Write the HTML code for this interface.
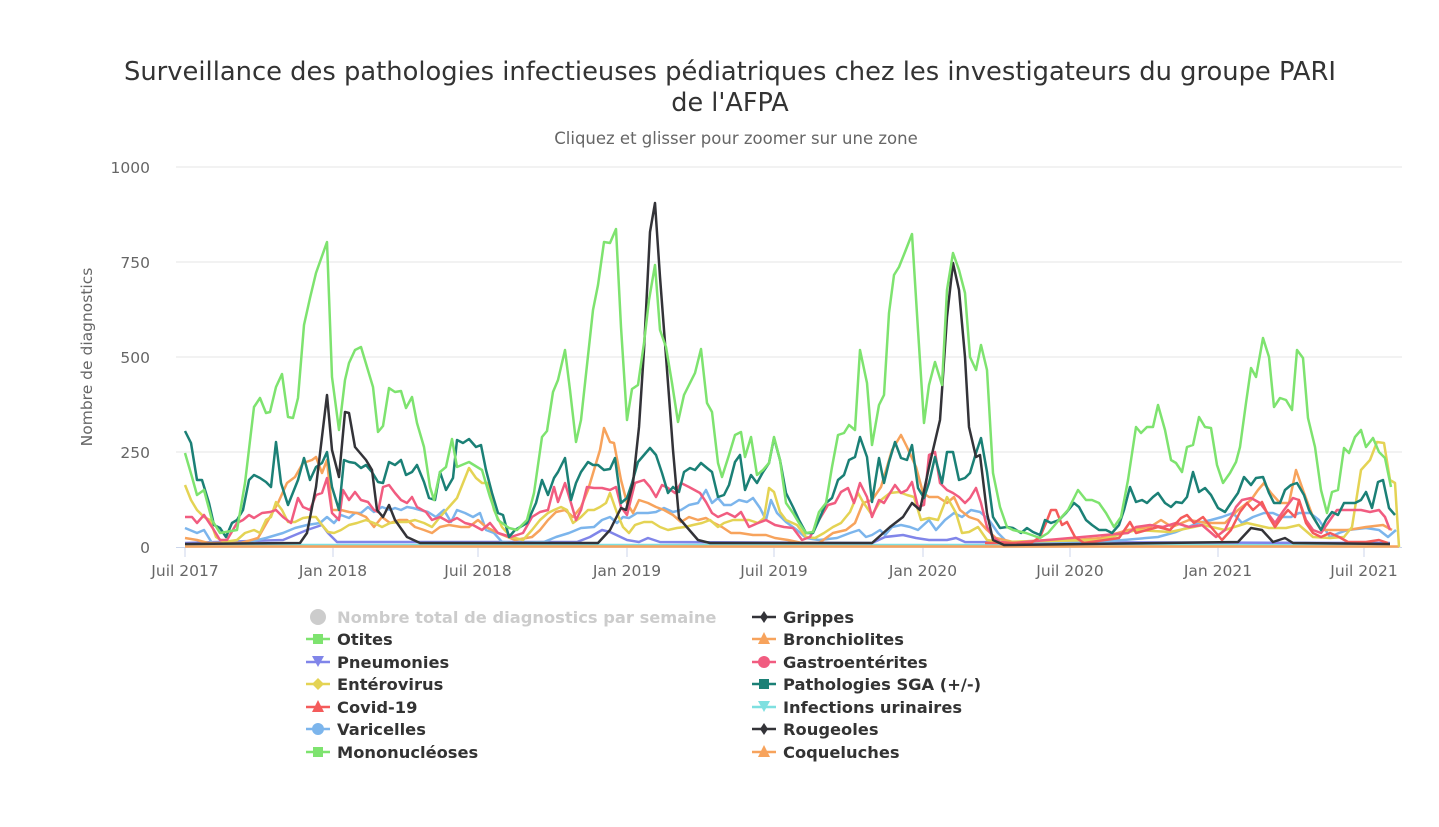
<!DOCTYPE html>
<html><head><meta charset="utf-8">
<style>
body{margin:0;background:#fff;width:1439px;height:822px;overflow:hidden;font-family:"Liberation Sans","DejaVu Sans",sans-serif;}
svg text{font-family:"DejaVu Sans","Liberation Sans",sans-serif;}
</style></head><body>
<svg width="1439" height="822" viewBox="0 0 1439 822" xmlns="http://www.w3.org/2000/svg">
<text x="730" y="80" text-anchor="middle" font-size="25.5" fill="#333" textLength="1212" lengthAdjust="spacingAndGlyphs">Surveillance des pathologies infectieuses pédiatriques chez les investigateurs du groupe PARI</text>
<text x="730" y="111" text-anchor="middle" font-size="25.5" fill="#333">de l'AFPA</text>
<text x="736" y="144" text-anchor="middle" font-size="16.5" fill="#666">Cliquez et glisser pour zoomer sur une zone</text>
<g stroke="#e6e6e6" stroke-width="1">
<line x1="176" y1="167" x2="1402" y2="167"/><line x1="176" y1="262" x2="1402" y2="262"/><line x1="176" y1="357" x2="1402" y2="357"/><line x1="176" y1="452" x2="1402" y2="452"/>
</g>
<line x1="176" y1="547.5" x2="1402" y2="547.5" stroke="#ccd6eb" stroke-width="1"/>
<g stroke="#ccd6eb" stroke-width="1">
<line x1="185" y1="547" x2="185" y2="557"/><line x1="333" y1="547" x2="333" y2="557"/><line x1="478" y1="547" x2="478" y2="557"/><line x1="627" y1="547" x2="627" y2="557"/><line x1="774" y1="547" x2="774" y2="557"/><line x1="923" y1="547" x2="923" y2="557"/><line x1="1070" y1="547" x2="1070" y2="557"/><line x1="1218" y1="547" x2="1218" y2="557"/><line x1="1364" y1="547" x2="1364" y2="557"/>
</g>
<g font-size="15.5" fill="#666" text-anchor="end">
<text x="150" y="173">1000</text><text x="150" y="268">750</text><text x="150" y="363">500</text><text x="150" y="458">250</text><text x="150" y="553">0</text>
</g>
<g font-size="15.5" fill="#666" text-anchor="middle">
<text x="185" y="576">Juil 2017</text><text x="333" y="576">Jan 2018</text><text x="478" y="576">Juil 2018</text><text x="627" y="576">Jan 2019</text><text x="774" y="576">Juil 2019</text><text x="923" y="576">Jan 2020</text><text x="1070" y="576">Juil 2020</text><text x="1218" y="576">Jan 2021</text><text x="1364" y="576">Juil 2021</text>
</g>
<text transform="translate(92,357) rotate(-90)" text-anchor="middle" font-size="15.5" fill="#666">Nombre de diagnostics</text>

<g fill="none" stroke-width="2.5" stroke-linejoin="round">
<polyline stroke="#7ee0e0" points="185,545 1390,545"/>
<polyline stroke="#f7a35c" points="185,546.5 1399,546.5"/>
<polyline stroke="#8085e9" points="185,543 283,540 295,535 307,530 316,527 322,525 328,533 337,542 577,542 590,537 602,530 610,532 627,540 639,542 648,538 660,542 872,543 885,537 903,535 916,538 929,540 947,540 956,538 965,542 1390,543"/>
<polyline stroke="#7cb5ec" points="185,528 197,533 204,530 212,543 245,543 266,538 283,533 295,528 307,525 320,523 327,517 334,523 341,515 349,518 355,513 361,513 368,507 374,512 382,507 390,510 395,508 401,510 407,507 413,508 420,510 428,512 436,517 444,510 451,522 457,510 465,513 473,517 480,513 486,530 494,533 502,542 515,543 544,542 556,537 569,533 581,528 594,527 602,520 610,517 617,523 623,517 629,518 637,513 648,513 656,512 664,508 673,512 681,510 689,505 698,503 706,490 712,503 718,498 724,505 731,505 739,500 747,502 753,498 760,508 766,520 771,500 777,513 786,522 797,530 806,538 819,540 837,538 850,533 859,530 866,537 872,535 880,530 885,535 892,527 901,525 910,527 918,530 929,520 936,530 945,520 954,513 962,517 971,510 980,512 989,520 998,533 1007,542 1100,542 1158,537 1176,532 1198,523 1211,520 1222,517 1233,513 1242,523 1253,517 1264,513 1273,513 1282,517 1291,517 1299,513 1310,513 1319,520 1330,537 1339,533 1348,530 1366,528 1379,530 1388,537 1396,530"/>
<polyline stroke="#f7a35c" points="185,538 197,540 208,543 241,543 258,538 270,517 278,503 287,483 295,477 303,463 312,460 316,457 322,473 327,460 332,510 341,510 349,512 357,513 366,517 374,527 382,517 390,523 399,520 407,520 415,527 424,530 432,533 440,527 449,525 461,527 469,527 478,520 486,527 498,533 515,540 532,537 540,530 548,520 556,512 565,510 573,517 581,507 588,490 594,470 600,450 604,428 610,442 614,443 621,480 627,503 633,513 639,500 648,503 656,507 664,510 673,515 681,522 689,517 698,520 706,518 714,523 722,527 731,533 740,533 753,535 766,535 775,538 788,540 802,543 819,543 833,533 846,530 855,523 863,503 872,500 881,487 892,450 901,435 907,447 916,467 923,493 929,497 938,497 947,503 954,497 960,510 969,517 978,520 987,530 996,538 1013,542 1048,540 1075,540 1101,538 1128,530 1150,527 1161,520 1172,527 1189,520 1207,523 1225,523 1238,510 1251,500 1258,490 1264,483 1271,493 1280,503 1289,503 1296,470 1304,493 1313,517 1321,530 1335,530 1348,530 1366,527 1383,525 1392,530"/>
<polyline stroke="#e4d354" points="185,485 191,500 197,510 204,517 210,520 216,537 224,542 237,540 245,533 254,530 260,533 266,520 271,517 276,502 282,510 288,522 295,522 303,518 310,517 316,517 322,525 328,532 334,533 341,530 349,525 357,523 366,520 374,523 382,527 390,523 399,522 407,522 415,520 424,523 432,527 440,517 449,507 457,498 463,483 469,468 476,478 482,483 488,483 494,510 502,527 511,537 523,540 532,530 540,520 548,513 554,510 561,507 567,510 573,523 581,517 588,510 594,510 600,507 606,503 610,493 617,513 623,527 629,533 635,525 644,522 652,522 660,527 668,530 677,528 685,527 693,525 702,523 710,520 718,527 724,523 733,520 741,520 749,520 758,523 764,518 769,488 774,492 780,512 786,520 797,525 806,537 815,538 824,533 833,527 841,523 850,512 858,493 863,502 872,515 881,500 890,493 899,492 907,495 914,497 921,520 929,518 938,520 947,497 956,513 962,533 969,532 978,527 987,540 1000,542 1100,540 1136,530 1170,532 1203,525 1225,530 1247,523 1269,528 1286,528 1299,525 1313,537 1330,538 1344,537 1352,527 1361,470 1370,460 1377,442 1384,443 1390,480 1395,483 1399,547"/>
<polyline stroke="#f15c80" points="185,517 192,517 197,523 204,515 212,527 220,540 227,540 237,523 243,520 249,515 254,518 262,513 270,512 276,510 283,517 291,523 298,498 303,507 310,510 316,495 322,493 327,478 332,513 339,520 343,490 349,500 355,492 361,500 368,502 374,510 378,512 383,487 389,485 395,493 401,500 407,503 412,497 417,507 426,512 432,520 440,517 449,522 457,518 465,523 473,525 482,530 490,523 498,533 511,537 523,533 532,517 540,512 548,510 554,487 558,502 565,483 571,503 576,520 581,510 587,487 594,488 602,488 610,490 616,487 621,507 627,515 635,483 644,480 650,487 656,497 662,485 668,488 675,493 681,483 689,487 700,493 706,502 712,513 718,517 727,513 735,517 741,512 749,527 758,523 766,520 775,525 784,527 793,528 802,540 810,537 819,520 828,505 835,503 841,492 848,488 854,503 860,483 867,497 872,517 879,500 884,503 890,493 895,485 901,493 907,490 912,482 918,507 924,505 929,455 935,452 940,483 947,490 953,493 959,497 965,503 970,498 976,488 981,503 987,527 993,537 1000,542 1013,543 1128,533 1136,527 1150,525 1163,527 1176,523 1189,527 1202,525 1216,537 1225,530 1236,507 1242,500 1251,498 1260,503 1269,515 1275,523 1284,510 1293,498 1299,500 1306,520 1313,530 1321,533 1330,520 1337,510 1344,510 1352,510 1361,510 1370,512 1379,510 1385,517 1390,530"/>
<polyline stroke="#f45b5b" points="985,543 1031,543 1040,537 1046,523 1051,510 1056,510 1062,525 1067,522 1075,537 1084,543 1119,538 1130,522 1136,533 1147,530 1158,527 1170,530 1181,518 1187,515 1194,523 1203,517 1211,527 1222,540 1231,530 1240,512 1247,503 1253,510 1262,502 1269,517 1275,527 1282,517 1288,510 1295,517 1299,500 1306,523 1313,533 1321,537 1330,533 1339,537 1348,542 1366,542 1379,540 1388,543"/>
<polyline stroke="#1b8076" points="185,431 191,443 197,480 202,480 209,503 214,525 220,528 226,537 232,523 237,520 243,510 249,480 254,475 260,478 266,482 271,487 276,442 281,483 288,505 298,480 304,458 310,480 316,467 322,463 327,452 332,487 339,510 344,460 349,462 355,463 361,468 366,465 372,472 378,482 383,483 389,462 395,465 401,460 406,475 412,472 417,465 424,482 429,498 435,500 440,472 446,490 453,478 457,440 463,443 469,439 476,447 481,445 486,470 492,493 498,513 503,515 509,537 515,530 527,523 536,503 542,480 548,495 554,478 558,472 565,458 571,500 576,483 581,472 588,462 593,465 598,465 604,470 610,469 615,458 621,503 627,498 632,483 638,462 644,455 650,448 656,455 662,473 668,493 673,487 679,492 684,472 690,468 695,470 701,463 707,468 712,472 718,497 724,495 729,485 735,462 740,455 745,490 751,475 757,483 763,472 769,463 774,438 780,460 786,493 793,507 799,520 806,533 813,533 819,520 826,503 832,498 838,480 844,475 849,460 855,457 860,437 867,457 872,502 879,458 884,483 889,462 895,442 901,458 907,460 912,445 918,488 924,498 929,483 935,457 942,483 947,452 953,452 959,480 965,478 970,473 976,453 981,438 987,472 993,517 1000,528 1007,527 1013,528 1021,533 1027,528 1033,532 1040,535 1045,520 1051,523 1059,520 1066,513 1074,503 1079,507 1086,520 1092,525 1099,530 1106,530 1112,533 1119,525 1124,510 1130,487 1136,502 1142,500 1147,503 1153,497 1158,493 1165,503 1171,507 1176,502 1182,503 1187,497 1193,472 1199,492 1205,488 1211,495 1218,508 1225,512 1231,503 1238,493 1244,477 1251,485 1256,478 1263,477 1269,493 1274,503 1280,503 1285,490 1291,485 1297,483 1304,495 1309,510 1315,520 1321,530 1326,520 1332,512 1338,515 1344,503 1349,503 1355,503 1361,500 1366,492 1372,508 1378,482 1383,480 1389,508 1395,515"/>
<polyline stroke="#333338" points="185,544 300,543 307,533 316,487 327,395 332,450 339,477 345,412 349,413 355,447 366,460 372,470 377,510 383,517 389,505 395,520 407,537 420,543 598,543 610,530 621,508 626,510 633,483 639,427 644,350 650,232 655,203 660,277 665,343 673,450 679,518 685,525 698,540 710,543 872,543 890,527 903,517 912,503 920,510 929,467 940,420 947,317 953,263 959,290 965,357 969,427 976,457 980,455 987,513 993,540 1004,545 1238,542 1251,528 1262,530 1273,542 1285,538 1293,543 1390,544"/>
<polyline stroke="#7ee36f" points="185,453 192,477 197,495 204,490 212,520 220,533 237,530 245,483 254,407 260,398 266,413 270,412 276,387 282,374 288,417 293,418 298,398 304,325 310,298 316,273 327,242 332,377 339,430 345,380 349,363 355,350 361,347 373,387 378,432 383,426 389,388 395,392 401,391 406,408 412,397 417,423 424,447 430,487 434,500 440,472 446,467 452,439 457,467 469,462 482,470 490,497 498,520 509,528 517,530 527,520 534,493 542,437 547,431 553,392 558,380 565,350 570,390 576,442 581,420 593,310 598,285 604,242 610,243 616,229 621,327 627,420 632,389 638,385 644,343 649,300 655,265 660,330 666,347 672,383 678,422 684,395 689,385 695,373 701,349 707,403 712,412 718,463 722,477 729,455 735,435 741,432 745,457 751,437 757,475 763,470 769,463 774,437 780,460 786,503 793,513 799,523 806,533 813,532 819,512 826,503 832,467 838,435 844,433 849,425 855,430 860,350 867,383 872,445 879,405 884,395 889,313 894,275 899,267 905,252 912,234 918,330 924,423 929,385 935,362 942,385 947,290 953,253 959,270 965,293 970,357 976,370 981,345 987,370 993,473 1000,507 1007,527 1013,530 1026,533 1040,538 1048,533 1059,520 1068,510 1078,490 1086,500 1092,500 1099,503 1106,513 1114,527 1121,517 1128,480 1136,427 1141,433 1147,427 1153,427 1158,405 1165,430 1171,460 1176,463 1182,472 1187,447 1193,445 1199,417 1205,427 1211,428 1217,465 1223,483 1230,473 1236,462 1240,447 1246,403 1251,368 1256,377 1263,338 1269,357 1274,407 1280,398 1286,400 1292,410 1297,350 1303,358 1308,418 1315,447 1321,490 1327,513 1332,492 1338,490 1344,448 1349,453 1355,437 1361,430 1366,447 1373,438 1379,452 1385,458 1391,487"/>
</g>

<g font-size="16.3" font-weight="bold" fill="#333">
<circle cx="318" cy="617" r="8" fill="#ccc"/>
<text x="337" y="623" fill="#ccc">Nombre total de diagnostics par semaine</text>
<line x1="306" y1="639" x2="330" y2="639" stroke="#7ee36f" stroke-width="2.5"/><rect x="313" y="634" width="10" height="10" fill="#7ee36f"/><text x="337" y="645">Otites</text>
<line x1="306" y1="662" x2="330" y2="662" stroke="#8085e9" stroke-width="2.5"/><polygon points="312,656 324,656 318,667" fill="#8085e9"/><text x="337" y="668">Pneumonies</text>
<line x1="306" y1="684" x2="330" y2="684" stroke="#e4d354" stroke-width="2.5"/><polygon points="318,678 324,684 318,690 312,684" fill="#e4d354"/><text x="337" y="690">Entérovirus</text>
<line x1="306" y1="707" x2="330" y2="707" stroke="#f45b5b" stroke-width="2.5"/><polygon points="318,700 324,712 312,712" fill="#f45b5b"/><text x="337" y="713">Covid-19</text>
<line x1="306" y1="729" x2="330" y2="729" stroke="#7cb5ec" stroke-width="2.5"/><circle cx="318" cy="729" r="6" fill="#7cb5ec"/><text x="337" y="735">Varicelles</text>
<line x1="306" y1="752" x2="330" y2="752" stroke="#7ee36f" stroke-width="2.5"/><rect x="313" y="747" width="10" height="10" fill="#7ee36f"/><text x="337" y="758">Mononucléoses</text>

<line x1="752" y1="617" x2="776" y2="617" stroke="#333338" stroke-width="2.5"/><polygon points="764,611 768,617 764,623 760,617" fill="#333338"/><text x="783" y="623">Grippes</text>
<line x1="752" y1="639" x2="776" y2="639" stroke="#f7a35c" stroke-width="2.5"/><polygon points="764,632 770,644 758,644" fill="#f7a35c"/><text x="783" y="645">Bronchiolites</text>
<line x1="752" y1="662" x2="776" y2="662" stroke="#f15c80" stroke-width="2.5"/><circle cx="764" cy="662" r="6" fill="#f15c80"/><text x="783" y="668">Gastroentérites</text>
<line x1="752" y1="684" x2="776" y2="684" stroke="#1b8076" stroke-width="2.5"/><rect x="759" y="679" width="10" height="10" fill="#1b8076"/><text x="783" y="690">Pathologies SGA (+/-)</text>
<line x1="752" y1="707" x2="776" y2="707" stroke="#7ee0e0" stroke-width="2.5"/><polygon points="758,701 770,701 764,712" fill="#7ee0e0"/><text x="783" y="713">Infections urinaires</text>
<line x1="752" y1="729" x2="776" y2="729" stroke="#333338" stroke-width="2.5"/><polygon points="764,723 768,729 764,735 760,729" fill="#333338"/><text x="783" y="735">Rougeoles</text>
<line x1="752" y1="752" x2="776" y2="752" stroke="#f7a35c" stroke-width="2.5"/><polygon points="764,745 770,757 758,757" fill="#f7a35c"/><text x="783" y="758">Coqueluches</text>
</g>
</svg>
</body></html>
